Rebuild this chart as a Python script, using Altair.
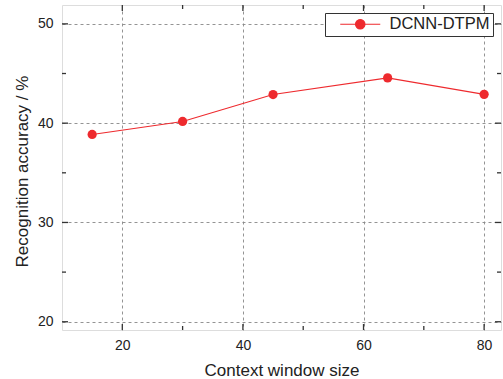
import altair as alt
import pandas as pd

window_size = [15, 30, 45, 64, 80]
accuracy = [38.86, 40.17, 42.88, 44.56, 42.9]
series = ["DCNN-DTPM"] * 5

x_major = [20, 40, 60, 80]
x_minor = [30, 50, 70]
y_major = [20, 30, 40, 50]
y_minor = [25, 35, 45]

X_DOMAIN = [10, 82.8]
Y_DOMAIN = [19.17, 51.9]
W, H = 439, 325
RED = "#EE2A2E"
FRAME = "#333333"

df = pd.DataFrame({"x": window_size, "y": accuracy, "series": series})

xs = alt.Scale(domain=X_DOMAIN, nice=False, zero=False)
ys = alt.Scale(domain=Y_DOMAIN, nice=False, zero=False)

legend_path = ("M-4,0H4M-0.95,0A0.95,0.95 0 1,1 0.95,0A0.95,0.95 0 1,1 -0.95,0Z")

base = alt.Chart(df)

line = base.mark_line(strokeWidth=1.1).encode(
    x=alt.X("x:Q", scale=xs, title="Context window size",
            axis=alt.Axis(values=x_major, grid=True, gridDash=[3, 3], gridColor="#888888",
                          gridWidth=0.9, ticks=False, domain=False, labelFontSize=14,
                          labelColor="#222222", labelPadding=8, labelFont="Liberation Sans",
                          titleFontSize=17, titleFont="Liberation Sans", titleColor="#222222",
                          titleFontWeight="normal", titleY=45, titleBaseline="alphabetic")),
    y=alt.Y("y:Q", scale=ys, title="Recognition accuracy / %",
            axis=alt.Axis(values=y_major, grid=True, gridDash=[3, 3], gridColor="#888888",
                          gridWidth=0.9, ticks=False, domain=False, labelFontSize=14,
                          labelColor="#222222", labelPadding=9, labelFont="Liberation Sans",
                          titleFontSize=17, titleFont="Liberation Sans", titleColor="#222222",
                          titleFontWeight="normal", titleX=-35, titleY=166,
                          titleBaseline="alphabetic", titleAngle=270)),
    color=alt.Color("series:N", scale=alt.Scale(range=[RED]),
                    legend=alt.Legend(title=None, orient="top-right", offset=8,
                                      symbolType=legend_path, symbolSize=100,
                                      symbolFillColor=RED, symbolStrokeColor=RED,
                                      symbolStrokeWidth=1.1, symbolOffset=24,
                                      labelOffset=21, labelFontSize=16.5,
                                      labelExpr="datum.label + ' '",
                                      labelFont="Liberation Sans", labelColor="#222222",
                                      strokeColor=FRAME, fillColor="white", padding=3,
                                      cornerRadius=0)),
)

points = base.mark_circle(size=85, opacity=1, color=RED).encode(
    x=alt.X("x:Q", scale=xs), y=alt.Y("y:Q", scale=ys)
)

tick_style = dict(color=FRAME, strokeWidth=1.3)

xmaj = pd.DataFrame({"v": x_major})
xmin = pd.DataFrame({"v": x_minor})
ymaj = pd.DataFrame({"v": y_major})
ymin = pd.DataFrame({"v": y_minor})

def xticks(d, length):
    bot = alt.Chart(d).mark_rule(**tick_style).encode(
        x=alt.X("v:Q", scale=xs), y=alt.value(H), y2=alt.value(H - length))
    top = alt.Chart(d).mark_rule(**tick_style).encode(
        x=alt.X("v:Q", scale=xs), y=alt.value(0), y2=alt.value(length))
    return bot + top

def yticks(d, length):
    left = alt.Chart(d).mark_rule(**tick_style).encode(
        y=alt.Y("v:Q", scale=ys), x=alt.value(0), x2=alt.value(length))
    right = alt.Chart(d).mark_rule(**tick_style).encode(
        y=alt.Y("v:Q", scale=ys), x=alt.value(W), x2=alt.value(W - length))
    return left + right

chart = alt.layer(
    line, points,
    xticks(xmaj, 6), xticks(xmin, 4), yticks(ymaj, 6), yticks(ymin, 4),
).properties(
    width=W, height=H,
    autosize=alt.AutoSizeParams(type="none"),
    padding={"left": 62, "top": 5, "right": 2, "bottom": 49},
).configure_view(
    stroke=FRAME, strokeWidth=1.5
).configure(background="white")

chart.save("out.html", embed_options={"renderer": "svg", "actions": False})
